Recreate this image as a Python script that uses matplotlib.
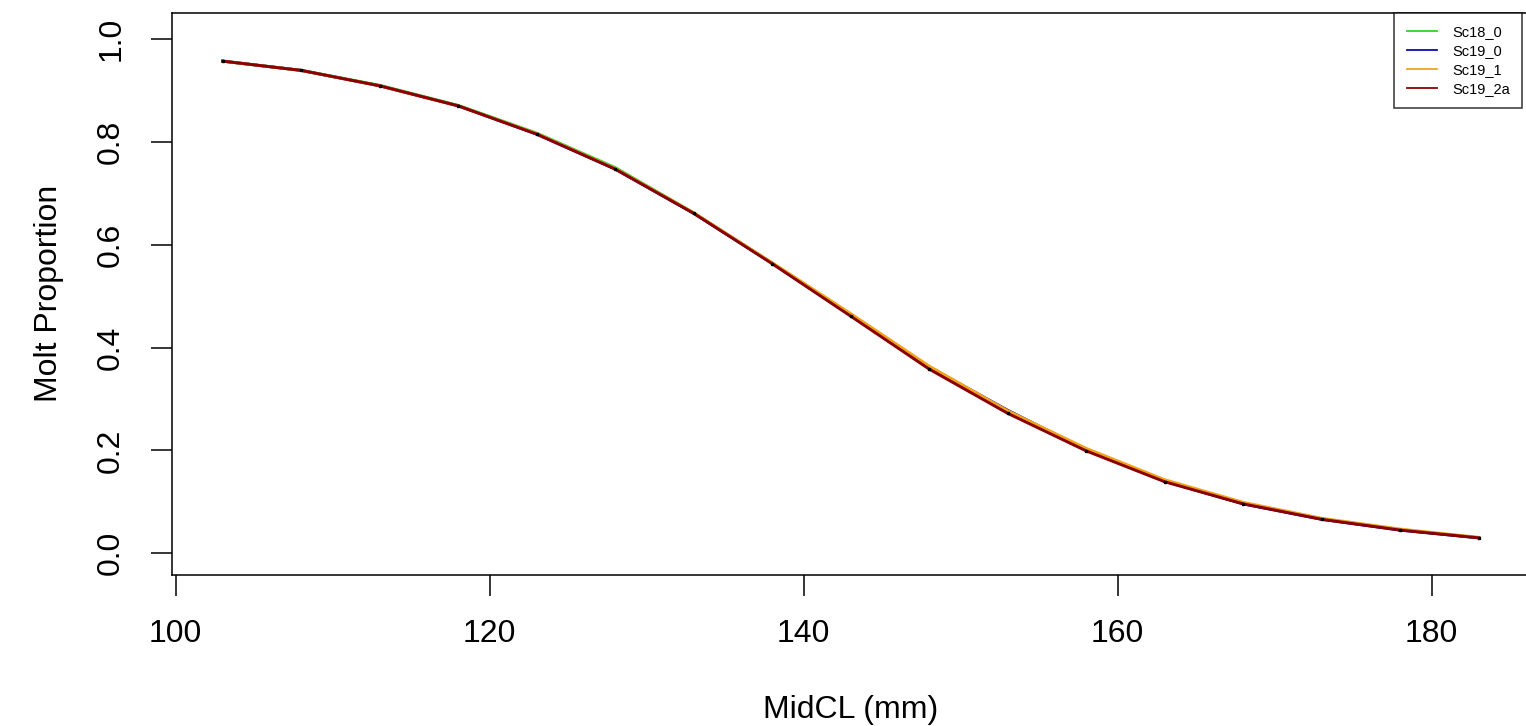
import matplotlib
matplotlib.use("Agg")
import matplotlib.pyplot as plt

# ---- data ----
midcl = [103, 108, 113, 118, 123, 128, 133, 138, 143, 148, 153, 158, 163, 168, 173, 178, 183]

sc18_0 = [0.957, 0.939, 0.910, 0.871, 0.817, 0.750, 0.662, 0.564, 0.464, 0.362,
          0.276, 0.202, 0.141, 0.097, 0.067, 0.046, 0.030]
sc19_0 = [0.957, 0.939, 0.909, 0.870, 0.815, 0.747, 0.661, 0.564, 0.463, 0.362,
          0.278, 0.201, 0.140, 0.096, 0.066, 0.045, 0.030]
sc19_1 = [0.957, 0.939, 0.909, 0.870, 0.816, 0.748, 0.662, 0.565, 0.466, 0.364,
          0.277, 0.204, 0.143, 0.099, 0.068, 0.047, 0.031]
sc19_2a = [0.957, 0.939, 0.909, 0.870, 0.815, 0.747, 0.661, 0.563, 0.461, 0.358,
           0.272, 0.199, 0.139, 0.096, 0.066, 0.045, 0.030]

names = ["Sc18_0", "Sc19_0", "Sc19_1", "Sc19_2a"]
colors = ["#2ad62a", "#0b0bb0", "#f2a31b", "#8b0000"]

x_ticks = [100, 120, 140, 160, 180]
y_ticks = [0.0, 0.2, 0.4, 0.6, 0.8, 1.0]

# ---- figure ----
plt.rcParams["font.family"] = ["Liberation Sans", "DejaVu Sans"]

W, H = 1526, 726
fig = plt.figure(figsize=(W / 100, H / 100), dpi=100)
# plot region in pixels: left 172, right 1529 (just past the edge), top 13, bottom 574.6
ax = fig.add_axes([172 / W, (H - 574.6) / H, (1529 - 172) / W, (574.6 - 13) / H])

for ys, c, n in zip([sc18_0, sc19_0, sc19_1, sc19_2a], colors, names):
    ax.plot(midcl, ys, color=c, lw=2.1, label=n)
ax.plot(midcl, sc19_2a, ls="none", marker="s", ms=1.6, color="black")

ax.set_xlim(99.77, 186.2)
ax.set_ylim(-0.0415, 1.0506)
ax.set_xticks(x_ticks)
ax.set_xticklabels([str(t) for t in x_ticks])
ax.set_yticks(y_ticks)
ax.set_yticklabels(["%.1f" % t for t in y_ticks], rotation=90, va="center")

ax.tick_params(axis="both", direction="out", length=15, width=1.1, labelsize=23, color="black")
ax.tick_params(axis="x", pad=17)
ax.tick_params(axis="y", pad=18)
for s in ax.spines.values():
    s.set_linewidth(1.1)

ax.set_xlabel("MidCL (mm)", fontsize=23)
ax.xaxis.set_label_coords(0.5, -0.241)
ax.xaxis.label.set_va("center")
ax.set_ylabel("Molt Proportion", fontsize=23)
ax.yaxis.set_label_coords(-0.091, 0.5)
ax.yaxis.label.set_va("center")

leg = ax.legend(loc="upper right", bbox_to_anchor=(1522 / W, 1 - 13 / H),
                bbox_transform=fig.transFigure, fontsize=10.5, frameon=True,
                fancybox=False, edgecolor="black", borderaxespad=0,
                labelspacing=0.33, handlelength=2.1, handletextpad=1.0,
                borderpad=0.85)
leg.get_frame().set_linewidth(1.1)
for h in leg.get_lines():
    h.set_linewidth(1.3)

fig.savefig("out.png", dpi=100)
